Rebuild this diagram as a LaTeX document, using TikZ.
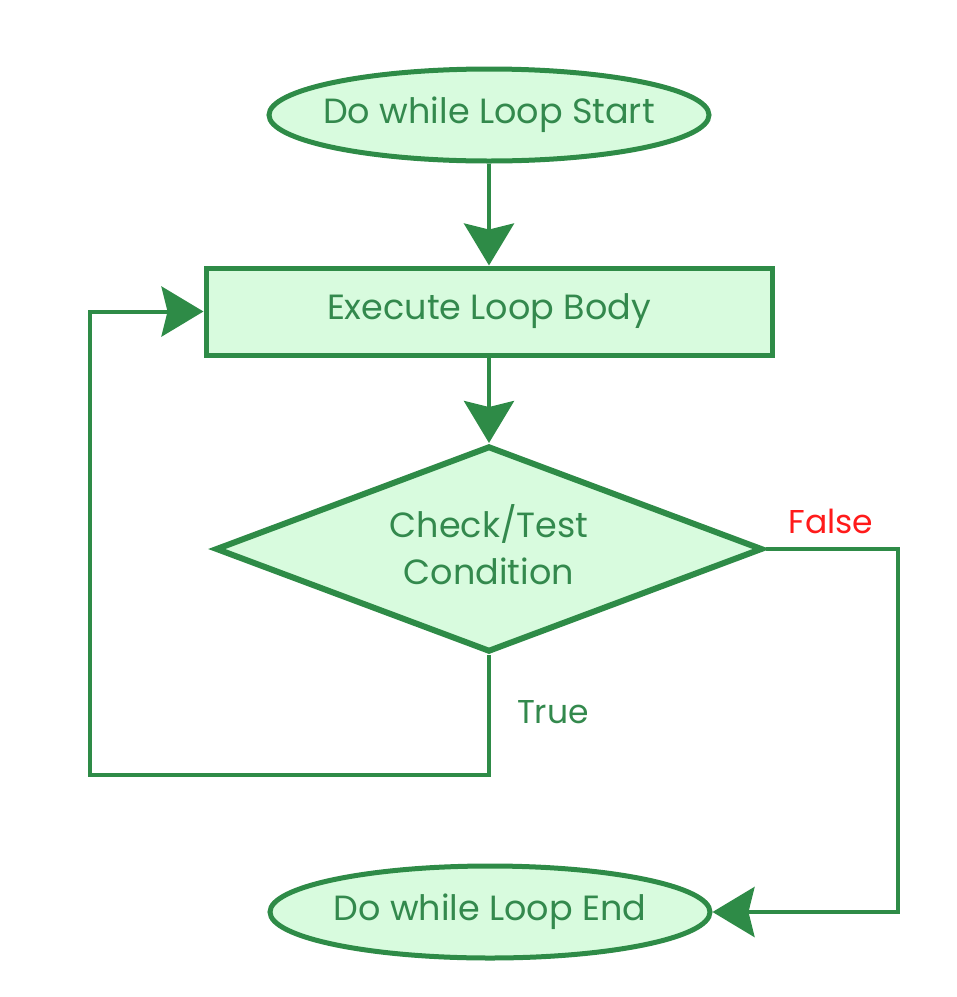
\documentclass[tikz,border=0pt]{standalone}
\usepackage{fontspec}
\setmainfont{Poppins}
\usetikzlibrary{shapes.geometric,arrows.meta}
\definecolor{gline}{HTML}{2E8B47}
\definecolor{gfill}{HTML}{D8FBDE}
\definecolor{gtext}{HTML}{33894D}
\definecolor{fred}{HTML}{FF1A1A}
\begin{document}
\begin{tikzpicture}[x=1pt,y=-1pt,
  txt/.style={text=gtext,font=\fontsize{35}{47}\selectfont,align=center,inner sep=0pt},
  base/.style={draw=gline,fill=gfill,line width=5pt,inner sep=0pt},
  term/.style={base,ellipse,minimum width=440pt,minimum height=92pt},
  proc/.style={base,rectangle,minimum width=566pt,minimum height=87pt},
  dec/.style={base,diamond,line width=6pt,minimum width=547pt,minimum height=206pt},
  conn/.style={draw=gline,line width=4pt,-{Stealth[length=42pt,width=50pt,inset=6pt]}},
  lbl/.style={font=\fontsize{33}{40}\selectfont}
]
\useasboundingbox (0,0) rectangle (957,997);
\node[term,label={[txt]center:Do while Loop Start}] (start) at (489,115) {};
\node[proc,label={[txt]center:Execute Loop Body}] (body) at (489,311.5) {};
\node[dec,label={[txt,yshift=4pt]center:Check/Test\\Condition}] (cond) at (489,549) {};
\node[term,label={[txt]center:Do while Loop End}] (end) at (490,912) {};
\coordinate (f1) at (898,549);
\coordinate (f2) at (898,912);
\coordinate (t1) at (489,775);
\coordinate (t2) at (90,775);
\coordinate (t3) at (90,311.5);
\draw[conn] (start.south) -- (body.north);
\draw[conn] (body.south) -- (cond.north);
\draw[conn] (cond.east) -- (f1) -- (f2) -- (end.east);
\draw[conn] (cond.south) -- (t1) -- (t2) -- (t3) -- (body.west);
\node[lbl,text=fred] (flbl) at (831,521) {False};
\node[lbl,text=gtext] (tlbl) at (553,712) {True};
\end{tikzpicture}
\end{document}
